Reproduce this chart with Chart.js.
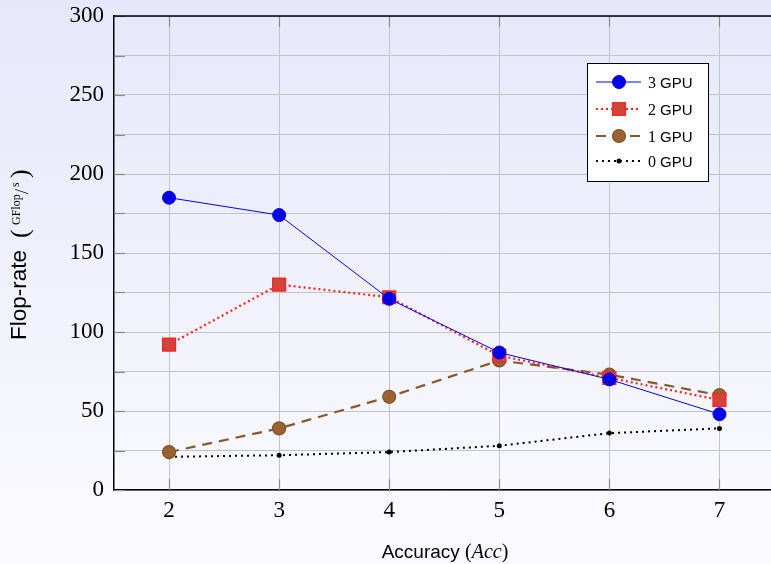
<!DOCTYPE html>
<html>
<head>
<meta charset="utf-8">
<script src="https://cdn.jsdelivr.net/npm/chart.js@4.4.1/dist/chart.umd.min.js"></script>
<style>
html,body{margin:0;padding:0;overflow:hidden}
body{width:771px;height:564px;background:linear-gradient(to bottom,#e6e7fa 0%,#f3f3fd 60%,#fbfbff 100%)}
canvas{display:block}
</style>
</head>
<body>
<canvas id="chart" width="785" height="564"></canvas>
<script>
// values
const accuracy=[2,3,4,5,6,7]
const gpu3=[185,174,121,87,70,48]
const gpu2=[92,130,122,85,71,57]
const gpu1=[24,39,59,82,73,60]
const gpu0=[21,22,24,28,36,39]
const seriesNames=["3 GPU","2 GPU","1 GPU","0 GPU"]
const xTicks=[2,3,4,5,6,7]
const yTicks=[0,25,50,75,100,125,150,175,200,225,250,275,300]
const yLabels=[0,50,100,150,200,250,300]

const pts=arr=>arr.map((v,i)=>({x:accuracy[i],y:v}))

const serif="'Liberation Serif', 'DejaVu Serif', serif"
const sans="'Liberation Sans', Arial, sans-serif"

const extras={
id:"extras",
beforeDatasetsDraw(chart){
const ctx=chart.ctx
const a=chart.chartArea
const xs=chart.scales.x
const ys=chart.scales.y
ctx.save()
ctx.strokeStyle="#8a8a8a"
ctx.lineWidth=1.2
// small ticks inside the frame
yTicks.forEach(v=>{
const y=Math.round(ys.getPixelForValue(v))+0.5
ctx.beginPath();ctx.moveTo(a.left,y);ctx.lineTo(a.left+11,y);ctx.stroke()
})
xTicks.forEach(v=>{
const x=Math.round(xs.getPixelForValue(v))+0.5
ctx.beginPath();ctx.moveTo(x,a.bottom);ctx.lineTo(x,a.bottom-11);ctx.stroke()
ctx.beginPath();ctx.moveTo(x,a.top);ctx.lineTo(x,a.top+11);ctx.stroke()
})
// top frame line
ctx.strokeStyle="#000"
ctx.lineWidth=1.5
ctx.beginPath();ctx.moveTo(a.left,a.top);ctx.lineTo(a.right,a.top);ctx.stroke()
ctx.restore()
},
afterDraw(chart){
const ctx=chart.ctx
ctx.save()
ctx.fillStyle="#000"
ctx.textBaseline="alphabetic"

// x title: Accuracy (Acc)
const parts=[
["Accuracy ","19px "+sans],
["(","20px "+serif],
["Acc","italic 20px "+serif],
[")","20px "+serif]
]
let w=0
parts.forEach(p=>{ctx.font=p[1];w+=ctx.measureText(p[0]).width})
let x=445-w/2
parts.forEach(p=>{ctx.font=p[1];ctx.fillText(p[0],x,558);x+=ctx.measureText(p[0]).width})

// y title: Flop-rate (GFlop/s), offsets along the text
ctx.save()
ctx.translate(26,340)
ctx.rotate(-Math.PI/2)
const yparts=[
["Flop-rate","22.5px "+sans,0,0],
["(","26px "+serif,102,1.5],
["GFlop","12px "+serif,115,-6],
["/","18px "+serif,146,2],
["s","12px "+serif,153,-7],
[")","26px "+serif,162,1.5]
]
yparts.forEach(p=>{ctx.font=p[1];ctx.fillText(p[0],p[2],p[3])})
ctx.restore()

// legend box
const bx=587,by=63,bw=121,bh=118
ctx.fillStyle="#fff"
ctx.fillRect(bx,by,bw,bh)
ctx.strokeStyle="#000"
ctx.lineWidth=1
ctx.strokeRect(bx+0.5,by+0.5,bw,bh)
const rows=[82,109,136,161]
chart.data.datasets.forEach((ds,i)=>{
const y=rows[i]
ctx.save()
ctx.strokeStyle=ds.borderColor
ctx.lineWidth=ds.borderWidth
ctx.setLineDash(ds.borderDash||[])
ctx.beginPath();ctx.moveTo(596,y);ctx.lineTo(641,y);ctx.stroke()
ctx.restore()
ctx.fillStyle=ds.pointBackgroundColor
ctx.strokeStyle=ds.pointBorderColor
ctx.lineWidth=ds.pointBorderWidth
ctx.beginPath()
if(ds.pointStyle==="rect"){
const s=Math.SQRT1_2*ds.pointRadius
ctx.rect(619-s,y-s,2*s,2*s)
}else{
ctx.arc(619,y,ds.pointRadius,0,Math.PI*2)
}
ctx.fill()
if(ds.pointBorderWidth>0)ctx.stroke()
const name=seriesNames[i].split(" ")
ctx.fillStyle="#000"
ctx.font="16px "+serif
ctx.fillText(name[0]+" ",648,y+6)
const nw=ctx.measureText(name[0]+" ").width
ctx.font="15px "+sans
ctx.fillText(name[1],648+nw,y+6)
})
ctx.restore()
}
}

new Chart(document.getElementById("chart"),{
type:"line",
data:{
datasets:[
{
label:seriesNames[0],
data:pts(gpu3),
borderColor:"#0000ff",
borderWidth:1,
pointStyle:"circle",
pointRadius:6.5,
pointBackgroundColor:"#0000e6",
pointBorderColor:"#0000e6",
pointBorderWidth:1
},
{
label:seriesNames[1],
data:pts(gpu2),
borderColor:"#ff2020",
borderWidth:2.2,
borderDash:[2,3],
pointStyle:"rect",
pointRadius:9,
pointBackgroundColor:"#d2443a",
pointBorderColor:"#ef2a2a",
pointBorderWidth:1.5
},
{
label:seriesNames[2],
data:pts(gpu1),
borderColor:"#87592e",
borderWidth:2.2,
borderDash:[10,7],
pointStyle:"circle",
pointRadius:6.5,
pointBackgroundColor:"#9a6230",
pointBorderColor:"#7e5228",
pointBorderWidth:1.2
},
{
label:seriesNames[3],
data:pts(gpu0),
borderColor:"#000",
borderWidth:2,
borderDash:[2,4],
pointStyle:"circle",
pointRadius:2.5,
pointBackgroundColor:"#000",
pointBorderColor:"#000",
pointBorderWidth:0
}
]
},
options:{
responsive:false,
animation:false,
layout:{padding:{top:16,right:6,left:0,bottom:0}},
plugins:{legend:{display:false},tooltip:{enabled:false}},
elements:{line:{tension:0}},
scales:{
x:{
type:"linear",
min:1.5,
max:7.5,
afterBuildTicks:axis=>{axis.ticks=xTicks.map(v=>({value:v}))},
afterFit:scale=>{scale.height=74;scale.paddingLeft=0;scale.paddingRight=0},
grid:{color:"#c4c4c4",lineWidth:1,drawTicks:false},
border:{display:true,color:"#000",width:1.5},
ticks:{padding:7,color:"#000",font:{family:serif,size:23},maxRotation:0}
},
y:{
min:0,
max:300,
afterBuildTicks:axis=>{axis.ticks=yTicks.map(v=>({value:v}))},
afterFit:scale=>{scale.width=114;scale.paddingTop=0;scale.paddingBottom=0},
grid:{color:"#c4c4c4",lineWidth:1,drawTicks:false},
border:{display:true,color:"#000",width:1.5},
ticks:{
padding:10,
color:"#000",
font:{family:serif,size:23},
callback:v=>yLabels.includes(v)?String(v):""
}
}
}
},
plugins:[extras]
})
</script>
</body>
</html>
